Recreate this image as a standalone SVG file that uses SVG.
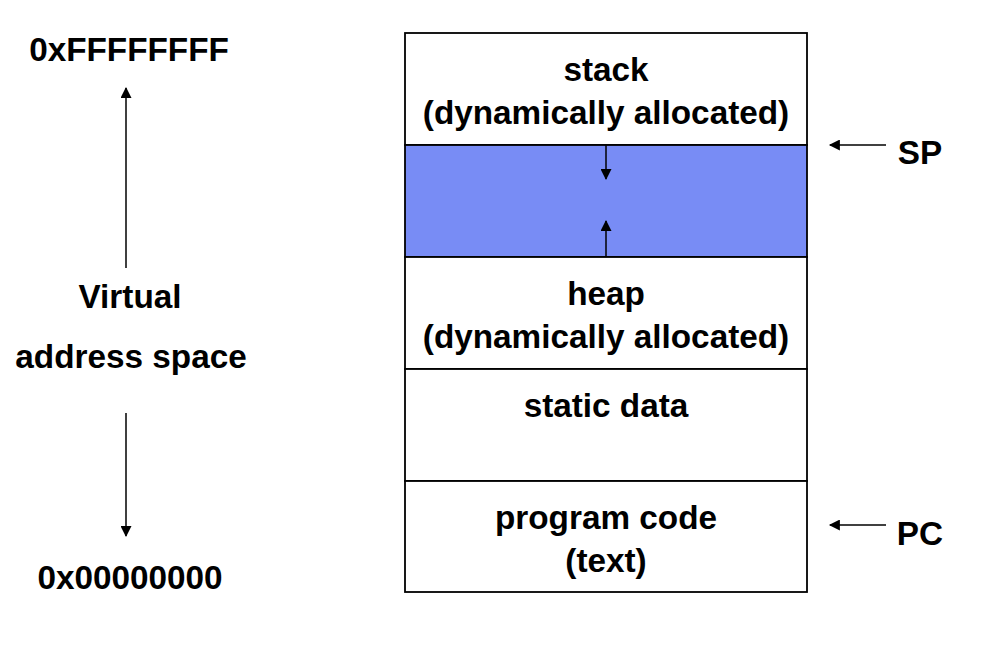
<svg xmlns="http://www.w3.org/2000/svg" width="982" height="672" viewBox="0 0 982 672">
<style>
text{font-family:"Liberation Sans",Arial,sans-serif;font-weight:bold;font-size:33.3px;fill:#000;text-anchor:middle}
.seg{fill:#fff;stroke:#000;stroke-width:1.8}
.gap{fill:#788cf5;stroke:#000;stroke-width:1.8}
.ln{stroke:#000;stroke-width:1.5;fill:none;marker-end:url(#ah)}
</style>
<defs>
<marker id="ah" viewBox="0 0 10 10" refX="9" refY="5" markerWidth="13" markerHeight="11" markerUnits="userSpaceOnUse" orient="auto">
<path d="M0,0 L10,5 L0,10 z" fill="#000"/>
</marker>
</defs>
<rect width="982" height="672" fill="#fff"/>
<g id="stack"><rect class="seg" x="405" y="33" width="402" height="112"/><text x="606" y="81">stack</text><text x="606" y="124">(dynamically allocated)</text></g>
<g id="free"><rect class="gap" x="405" y="145" width="402" height="112"/></g>
<g id="heap"><rect class="seg" x="405" y="257" width="402" height="112"/><text x="606" y="305">heap</text><text x="606" y="348">(dynamically allocated)</text></g>
<g id="static"><rect class="seg" x="405" y="369" width="402" height="112"/><text x="606" y="417">static data</text></g>
<g id="code"><rect class="seg" x="405" y="481" width="402" height="111"/><text x="606" y="529">program code</text><text x="606" y="572">(text)</text></g>
<g id="labels">
<text x="129" y="61">0xFFFFFFFF</text>
<text x="130" y="308">Virtual</text>
<text x="131" y="368">address space</text>
<text x="130" y="589">0x00000000</text>
<text x="920" y="164">SP</text>
<text x="920" y="545">PC</text>
</g>
<g id="connectors">
<line class="ln" x1="606" y1="145" x2="606" y2="179"/>
<line class="ln" x1="606" y1="257" x2="606" y2="221"/>
<line class="ln" x1="126" y1="268" x2="126" y2="88"/>
<line class="ln" x1="126" y1="413" x2="126" y2="536"/>
<line class="ln" x1="886" y1="145" x2="830" y2="145"/>
<line class="ln" x1="886" y1="525" x2="830" y2="525"/>
</g>
</svg>
